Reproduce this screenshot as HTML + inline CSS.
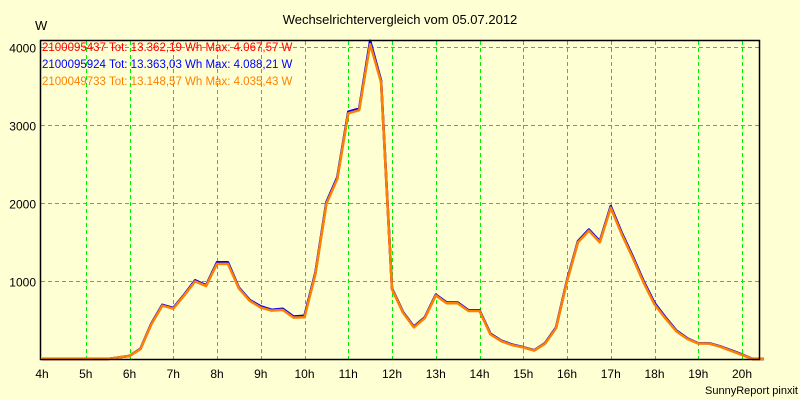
<!DOCTYPE html>
<html><head><meta charset="utf-8"><style>
body{margin:0;background:#ffffd4;}
svg{display:block;font-family:"Liberation Sans",sans-serif;}
</style></head><body>
<svg id="chart" width="800" height="400">
<rect x="0" y="0" width="800" height="400" fill="#ffffd4"/>
<text x="400" y="24" font-size="13" text-anchor="middle" fill="#000">Wechselrichtervergleich vom 05.07.2012</text>
<text x="35" y="30" font-size="13" fill="#000">W</text>
<g id="grid" shape-rendering="crispEdges"></g>
<g id="series"></g>
<rect x="40.5" y="40.5" width="719" height="319" fill="none" stroke="#000" stroke-width="1.5"/>
<g id="labels"></g>
<g font-size="11.5">
<text x="42" y="51" fill="#ff0000">2100095437 Tot: 13.362,19 Wh Max: 4.067,57 W</text>
<text x="42" y="68" fill="#0000ff">2100095924 Tot: 13.363,03 Wh Max: 4.088,21 W</text>
<text x="42" y="85" fill="#ff8000">2100049733 Tot: 13.148,57 Wh Max: 4.035,43 W</text>
</g>
<text x="798" y="394" font-size="11" text-anchor="end" fill="#000">SunnyReport pinxit</text>
</svg>
<script>
const hours = [4,4.25,4.5,4.75,5,5.25,5.5,5.75,6,6.25,6.5,6.75,7,7.25,7.5,7.75,8,8.25,8.5,8.75,9,9.25,9.5,9.75,10,10.25,10.5,10.75,11,11.25,11.5,11.75,12,12.25,12.5,12.75,13,13.25,13.5,13.75,14,14.25,14.5,14.75,15,15.25,15.5,15.75,16,16.25,16.5,16.75,17,17.25,17.5,17.75,18,18.25,18.5,18.75,19,19.25,19.5,19.75,20,20.25,20.5];
const redValues = [0,0,0,0,0,0,0,20,40,130,450,690,650,820,1000,940,1230,1230,910,750,670,630,640,540,550,1100,2000,2320,3160,3200,4060,3560,900,600,410,530,820,720,720,620,620,320,230,180,150,110,200,400,1000,1500,1650,1500,1950,1610,1310,990,710,530,360,260,200,200,160,110,55,0,0];
const blueValues = [0,0,0,0,0,0,0,20,40,132,455,695,655,825,1010,945,1240,1240,915,755,675,630,645,545,555,1110,2010,2330,3170,3210,4080,3570,905,605,415,535,825,725,725,625,625,325,235,185,152,112,205,405,1010,1510,1660,1510,1960,1620,1320,1000,720,535,365,265,202,202,162,112,58,0,0];
const orangeValues = [0,0,0,0,0,0,0,20,40,128,445,685,645,815,995,935,1220,1220,905,745,660,620,630,530,535,1090,1990,2310,3150,3190,4035,3550,895,595,405,525,815,715,715,615,615,315,228,178,148,108,198,395,995,1495,1645,1495,1940,1600,1300,980,700,520,355,258,198,198,158,105,52,0,0];
const xTicks = ["4h","5h","6h","7h","8h","9h","10h","11h","12h","13h","14h","15h","16h","17h","18h","19h","20h"];
const yTicks = [1000,2000,3000,4000];

const NS="http://www.w3.org/2000/svg";
const x = h => 42 + (h-4)*43.75;
const y = v => 359 - v*0.078;
const grid=document.getElementById('grid'), labels=document.getElementById('labels'), series=document.getElementById('series');
xTicks.forEach((t,i)=>{
  const h=4+i, px=x(h);
  if(i>0){
    const gx=Math.round(px)+0.5;
    const l=document.createElementNS(NS,'line');
    l.setAttribute('x1',gx);l.setAttribute('x2',gx);l.setAttribute('y1',41);l.setAttribute('y2',359);
    l.setAttribute('stroke','#00ee00');l.setAttribute('stroke-dasharray','4,3');
    
    
    grid.appendChild(l);
  }
  const tx=document.createElementNS(NS,'text');
  tx.setAttribute('x',px);tx.setAttribute('y',378);tx.setAttribute('font-size','12');tx.setAttribute('text-anchor','middle');
  tx.textContent=t;
  
  
  labels.appendChild(tx);
});
yTicks.forEach(v=>{
  const py=Math.round(y(v))+0.5;
  const l=document.createElementNS(NS,'line');
  l.setAttribute('x1',41);l.setAttribute('x2',759);l.setAttribute('y1',py);l.setAttribute('y2',py);
  l.setAttribute('stroke','#00ee00');l.setAttribute('stroke-dasharray','4,3');
  
  
  grid.appendChild(l);
  const tx=document.createElementNS(NS,'text');
  tx.setAttribute('x',36);tx.setAttribute('y',py+5);tx.setAttribute('font-size','12');tx.setAttribute('text-anchor','end');
  tx.textContent=v;
  
  
  labels.appendChild(tx);
});
[[redValues,'#ff0000','line-red'],[blueValues,'#0000ff','line-blue'],[orangeValues,'#ff8000','line-orange']].forEach(([vals,col,name])=>{
  const p=document.createElementNS(NS,'polyline');
  p.setAttribute('points',vals.map((v,i)=>x(hours[i])+','+y(v)).join(' '));
  p.setAttribute('fill','none');p.setAttribute('stroke',col);p.setAttribute('stroke-width','2.5');p.setAttribute('stroke-linejoin','round');
  
  
  series.appendChild(p);
});
</script>
</body></html>
